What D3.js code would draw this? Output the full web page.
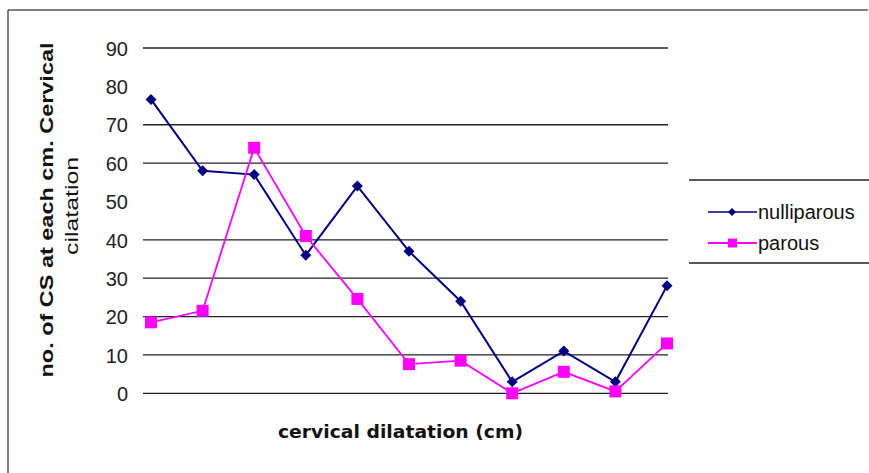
<!DOCTYPE html>
<html>
<head>
<meta charset="utf-8">
<script src="https://cdn.jsdelivr.net/npm/d3@7"></script>
<style>
  html, body { margin: 0; padding: 0; background: #fff; }
  svg { display: block; }
</style>
</head>
<body>
<svg id="chart" width="869" height="473"></svg>
<script>
// ---- data ----
const categories = ["1", "2", "3", "4", "5", "6", "7", "8", "9", "10", "11"];
const nulliparous = [76.6, 58, 57, 36, 54, 37, 24, 3, 11, 3, 28];
const parous = [18.5, 21.5, 64, 41, 24.6, 7.6, 8.5, 0, 5.6, 0.5, 13];
const yTicks = [0, 10, 20, 30, 40, 50, 60, 70, 80, 90];
const gridValues = [0, 10, 20, 30, 40, 60, 70, 90];
const seriesNames = ["nulliparous", "parous"];

// ---- layout ----
const svg = d3.select("#chart");
const plotLeft = 143, plotRight = 668, plotTop = 48, plotBottom = 393.3;

const x = d3.scalePoint().domain(categories).range([151, 667]);
const y = d3.scaleLinear().domain([0, 90]).range([plotBottom, plotTop]);

// outer frame (top and left edges visible)
svg.append("line").attr("x1", 8).attr("x2", 868).attr("y1", 10).attr("y2", 10)
  .attr("stroke", "#555").attr("stroke-width", 1.5);
svg.append("line").attr("x1", 8).attr("x2", 8).attr("y1", 10).attr("y2", 473)
  .attr("stroke", "#555").attr("stroke-width", 1.5);

// gridlines
svg.append("g").selectAll("line").data(gridValues).join("line")
  .attr("x1", plotLeft).attr("x2", plotRight)
  .attr("y1", d => y(d)).attr("y2", d => y(d))
  .attr("stroke", "#222").attr("stroke-width", 1.3);

// y axis tick labels
const yAxis = d3.axisLeft(y).tickValues(yTicks).tickSize(0).tickPadding(0);
const gy = svg.append("g").attr("transform", "translate(128,0)").call(yAxis);
gy.select(".domain").remove();
gy.selectAll("text")
  .attr("font-family", "Liberation Sans, Arial, sans-serif")
  .attr("font-size", 20).attr("fill", "#222").attr("dy", "0.36em");

// lines
const lineGen = d3.line().x((d, i) => x(categories[i])).y(d => y(d));
svg.append("path").datum(nulliparous).attr("d", lineGen)
  .attr("fill", "none").attr("stroke", "#000080").attr("stroke-width", 2);
svg.append("path").datum(parous).attr("d", lineGen)
  .attr("fill", "none").attr("stroke", "#FF00FF").attr("stroke-width", 1.8);

// markers
const diamond = (cx, cy, r) => `M${cx},${cy - r}L${cx + r},${cy}L${cx},${cy + r}L${cx - r},${cy}Z`;
svg.append("g").selectAll("path").data(nulliparous).join("path")
  .attr("d", (d, i) => diamond(x(categories[i]), y(d), 5.5))
  .attr("fill", "#000080");
svg.append("g").selectAll("rect").data(parous).join("rect")
  .attr("x", (d, i) => x(categories[i]) - 6).attr("y", d => y(d) - 6)
  .attr("width", 12).attr("height", 12).attr("fill", "#FF00FF");

// legend
svg.append("line").attr("x1", 689).attr("x2", 869).attr("y1", 180).attr("y2", 180)
  .attr("stroke", "#222").attr("stroke-width", 1.3);
svg.append("line").attr("x1", 689).attr("x2", 869).attr("y1", 263).attr("y2", 263)
  .attr("stroke", "#222").attr("stroke-width", 1.3);
const legY = [212, 243];
const legColors = ["#000080", "#FF00FF"];
seriesNames.forEach((name, i) => {
  svg.append("line").attr("x1", 708).attr("x2", 757).attr("y1", legY[i]).attr("y2", legY[i])
    .attr("stroke", legColors[i]).attr("stroke-width", i === 0 ? 1.5 : 2);
  if (i === 0) {
    svg.append("path").attr("d", diamond(732, legY[i], 4)).attr("fill", legColors[i]);
  } else {
    svg.append("rect").attr("x", 728).attr("y", legY[i] - 4.5).attr("width", 9).attr("height", 9)
      .attr("fill", legColors[i]);
  }
  svg.append("text").attr("x", 758).attr("y", legY[i]).attr("dy", "0.35em")
    .attr("font-family", "Liberation Sans, Arial, sans-serif").attr("font-size", 20)
    .attr("fill", "#111").text(name);
});

// axis titles
svg.append("text").attr("x", 400.5).attr("y", 438).attr("text-anchor", "middle")
  .attr("font-family", "DejaVu Sans, Verdana, sans-serif").attr("font-weight", "bold")
  .attr("font-size", 18.5).attr("textLength", 245).attr("lengthAdjust", "spacingAndGlyphs")
  .attr("fill", "#111").text("cervical dilatation (cm)");

const yt = svg.append("g").attr("transform", "translate(0,210) rotate(-90)");
yt.append("text").attr("x", 0).attr("y", 53).attr("text-anchor", "middle")
  .attr("font-family", "Liberation Sans, Arial, sans-serif").attr("font-weight", "bold")
  .attr("font-size", 19).attr("textLength", 335).attr("lengthAdjust", "spacingAndGlyphs")
  .attr("fill", "#111").text("no. of CS at each cm. Cervical");
yt.append("text").attr("x", 4).attr("y", 78).attr("text-anchor", "middle")
  .attr("font-family", "Liberation Sans, Arial, sans-serif").attr("font-weight", "normal")
  .attr("font-size", 19).attr("textLength", 98).attr("lengthAdjust", "spacingAndGlyphs")
  .attr("fill", "#111").text("cilatation");
</script>
</body>
</html>
